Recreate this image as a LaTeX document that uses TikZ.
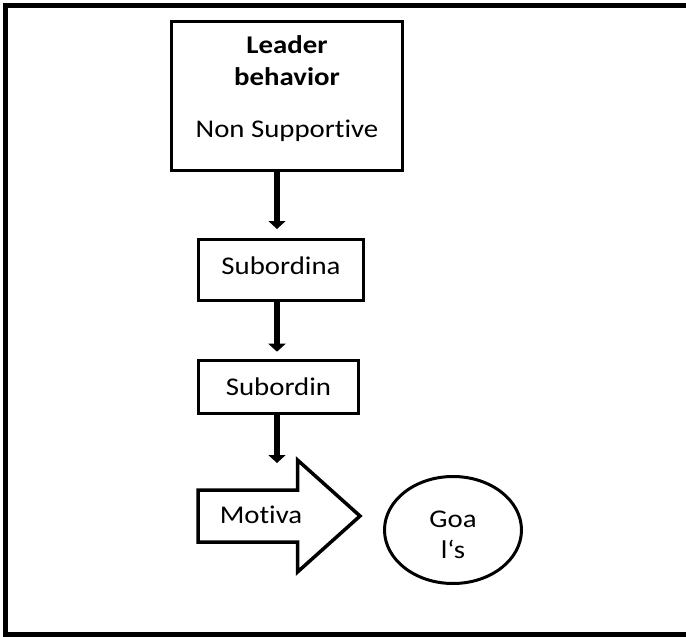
\documentclass[tikz,border=0pt]{standalone}
\usepackage{fontspec}
\setmainfont{Carlito}[FakeStretch=1.13,Ligatures=CommonOff]
\usetikzlibrary{arrows.meta,positioning,shapes.geometric}

\begin{document}
\begin{tikzpicture}[x=1pt,y=1pt,on grid,font=\fontsize{25.5}{32}\selectfont,
    box/.style={draw,line width=3pt,inner sep=0pt},
    flow/.style={-{Triangle[width=17pt,length=8pt]},line width=5.5pt},
    bigarrow/.style={draw,line width=3.5pt,line join=miter}]
    \useasboundingbox (0,0) rectangle (686,-637);
    \draw[line width=5pt] (5.5,-5.5) rectangle (700,-634);
    \node[box,minimum width=231.5pt,minimum height=149pt] (lead) at (287,-95.5)
        {\begin{tabular}{@{}c@{}}\bfseries Leader\\ \bfseries behavior\\[20pt] Non Supportive\\[13.2pt]\end{tabular}};
    \node[box,minimum width=165pt,minimum height=61pt,text height=18pt,text depth=9pt] (sub1)
        [below=174pt of lead,xshift=-6pt] {Subordina};
    \node[box,minimum width=160pt,minimum height=53pt,text height=18pt,text depth=1pt] (sub2)
        [below=117pt of sub1,xshift=-2.5pt] {Subordin};
    \node[anchor=base] (motiv) at (261,-523.3) {Motiva};
    \node[ellipse,draw,line width=3pt,inner sep=0pt,minimum width=137pt,minimum height=107pt] (goal)
        at (453,-530) {\begin{tabular}{@{}c@{}}Goa\rule{0pt}{34.6pt}\\[-1pt] l‘s\end{tabular}};
    \coordinate (spine) at (277,0);
    \coordinate (motivin) at (277,-463);
    \draw[flow,shorten >=8.5pt] (spine |- lead.south) -- (spine |- sub1.north);
    \draw[flow,shorten >=6.8pt] (spine |- sub1.south) -- (spine |- sub2.north);
    \draw[flow] (spine |- sub2.south) -- (motivin);
    \draw[bigarrow] (198,-490) -| (297.5,-460) -- (360,-516) -- (297.5,-572) |- (198,-542) -- cycle;
\end{tikzpicture}
\end{document}
